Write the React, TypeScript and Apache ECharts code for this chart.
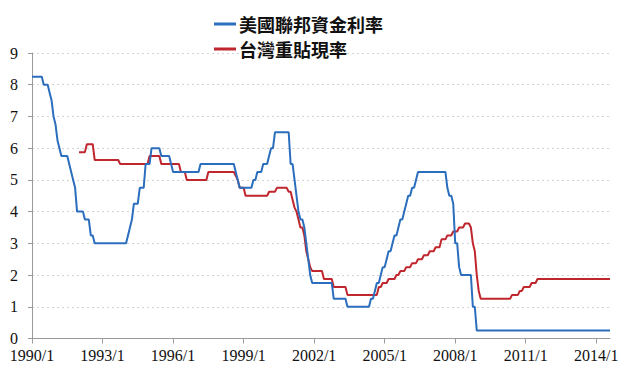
import React, { useEffect, useRef } from "react";
import * as echarts from "echarts";

// Series names
const seriesNames = ["美國聯邦資金利率", "台灣重貼現率"];

// US Fed funds rate: [month from which the value applies, value %]
const fedRuns: [string, number][] = [
  ["1990/1", 8.25], ["1990/7", 8.0], ["1990/10", 7.75], ["1990/11", 7.5], ["1990/12", 7.0],
  ["1991/1", 6.75], ["1991/2", 6.25], ["1991/3", 6.0], ["1991/4", 5.75], ["1991/8", 5.5],
  ["1991/9", 5.25], ["1991/10", 5.0], ["1991/11", 4.75], ["1991/12", 4.0], ["1992/4", 3.75],
  ["1992/7", 3.25], ["1992/9", 3.0], ["1994/2", 3.25], ["1994/3", 3.5], ["1994/4", 3.75],
  ["1994/5", 4.25], ["1994/8", 4.75], ["1994/11", 5.5], ["1995/2", 6.0], ["1995/7", 5.75],
  ["1995/12", 5.5], ["1996/1", 5.25], ["1997/3", 5.5], ["1998/9", 5.25], ["1998/10", 5.0],
  ["1998/11", 4.75], ["1999/6", 5.0], ["1999/8", 5.25], ["1999/11", 5.5], ["2000/2", 5.75],
  ["2000/3", 6.0], ["2000/5", 6.5], ["2001/1", 5.5], ["2001/3", 5.0], ["2001/4", 4.5],
  ["2001/5", 4.0], ["2001/6", 3.75], ["2001/8", 3.5], ["2001/9", 3.0], ["2001/10", 2.5],
  ["2001/11", 2.0], ["2001/12", 1.75], ["2002/11", 1.25], ["2003/6", 1.0], ["2004/6", 1.25],
  ["2004/8", 1.5], ["2004/9", 1.75], ["2004/11", 2.0], ["2004/12", 2.25], ["2005/2", 2.5],
  ["2005/3", 2.75], ["2005/5", 3.0], ["2005/6", 3.25], ["2005/8", 3.5], ["2005/9", 3.75],
  ["2005/11", 4.0], ["2005/12", 4.25], ["2006/1", 4.5], ["2006/3", 4.75], ["2006/5", 5.0],
  ["2006/6", 5.25], ["2007/9", 4.75], ["2007/10", 4.5], ["2007/12", 4.25], ["2008/1", 3.0],
  ["2008/3", 2.25], ["2008/4", 2.0], ["2008/10", 1.0], ["2008/12", 0.25],
];

// Taiwan rediscount rate: [month from which the value applies, value %]
const twRuns: [string, number][] = [
  ["1992/1", 5.875], ["1992/5", 6.125], ["1992/9", 5.625], ["1993/10", 5.5], ["1995/1", 5.75],
  ["1995/7", 5.5], ["1996/5", 5.25], ["1996/8", 5.0], ["1997/7", 5.25], ["1998/9", 5.125],
  ["1998/10", 5.0], ["1998/11", 4.75], ["1999/2", 4.5], ["2000/2", 4.625], ["2000/6", 4.75],
  ["2000/12", 4.625], ["2001/2", 4.375], ["2001/3", 4.125], ["2001/4", 4.0], ["2001/5", 3.75],
  ["2001/6", 3.5], ["2001/8", 3.25], ["2001/9", 2.75], ["2001/10", 2.5], ["2001/11", 2.25],
  ["2001/12", 2.125], ["2002/6", 1.875], ["2002/11", 1.625], ["2003/6", 1.375], ["2004/10", 1.625],
  ["2004/12", 1.75], ["2005/3", 1.875], ["2005/7", 2.0], ["2005/9", 2.125], ["2005/12", 2.25],
  ["2006/3", 2.375], ["2006/6", 2.5], ["2006/9", 2.625], ["2006/12", 2.75], ["2007/3", 2.875],
  ["2007/6", 3.125], ["2007/9", 3.25], ["2007/12", 3.375], ["2008/3", 3.5], ["2008/6", 3.625],
  ["2008/9", 3.5], ["2008/10", 3.0], ["2008/11", 2.75], ["2008/12", 2.0], ["2009/1", 1.5],
  ["2009/2", 1.25], ["2010/6", 1.375], ["2010/10", 1.5], ["2010/12", 1.625], ["2011/4", 1.75],
  ["2011/7", 1.875],
];

const startMonth = "1990/1";
const endMonth = "2014/8";
const xTickLabels = ["1990/1", "1993/1", "1996/1", "1999/1", "2002/1", "2005/1", "2008/1", "2011/1", "2014/1"];
const yTicks = [0, 1, 2, 3, 4, 5, 6, 7, 8, 9];

const monthIndex = (s: string) => {
  const [y, m] = s.split("/").map(Number);
  const [y0, m0] = startMonth.split("/").map(Number);
  return (y - y0) * 12 + (m - m0);
};

const runsToPoints = (runs: [string, number][]) => {
  const last = monthIndex(endMonth);
  const pts: [number, number][] = [];
  runs.forEach(([s, v], i) => {
    const a = monthIndex(s);
    const b = i + 1 < runs.length ? monthIndex(runs[i + 1][0]) - 1 : last;
    pts.push([a, v]);
    if (b > a) pts.push([b, v]);
  });
  return pts;
};

const SERIF = "Times New Roman";

export default function App() {
  const ref = useRef<HTMLDivElement>(null);
  useEffect(() => {
    if (!ref.current) return;
    const chart = echarts.init(ref.current, null, { renderer: "svg" });
    const tickVals = xTickLabels.map(monthIndex);
    const labelMap: Record<number, string> = {};
    xTickLabels.forEach((l) => (labelMap[monthIndex(l)] = l));
    chart.setOption({
      animation: false,
      backgroundColor: "#ffffff",
      textStyle: { fontFamily: SERIF },
      grid: { left: 32, right: 19, top: 53, bottom: 38.5, containLabel: false },
      legend: {
        orient: "vertical",
        left: 214,
        top: 15,
        padding: 0,
        itemWidth: 22,
        itemHeight: 3,
        itemGap: 7,
        icon: "rect",
        textStyle: {
          fontFamily: "Noto Sans CJK TC",
          fontSize: 18,
          fontWeight: "bold",
          color: "#111",
          lineHeight: 18,
          padding: [0, 0, 0, -2],
        },
        data: seriesNames,
      },
      xAxis: {
        type: "value",
        min: 0,
        max: monthIndex(endMonth),
        splitLine: { show: false },
        axisLine: { show: true, lineStyle: { color: "#9a9a9a", width: 1 } },
        axisTick: { show: true, length: 5, customValues: tickVals, lineStyle: { color: "#9a9a9a" } },
        axisLabel: {
          customValues: tickVals,
          formatter: (v: number) => labelMap[v] ?? "",
          fontFamily: SERIF,
          fontSize: 16,
          color: "#111",
          margin: 9,
        },
      },
      yAxis: {
        type: "value",
        min: yTicks[0],
        max: yTicks[yTicks.length - 1],
        interval: 1,
        axisLine: { show: true, lineStyle: { color: "#9a9a9a", width: 1 } },
        axisTick: { show: true, length: 4, lineStyle: { color: "#9a9a9a" } },
        axisLabel: {
          fontFamily: SERIF,
          fontSize: 16,
          color: "#111",
          margin: 14,
        },
        splitLine: { show: true, lineStyle: { color: "#d4d4d4", type: [2, 3], width: 1 } },
      },
      series: [
        {
          name: seriesNames[0],
          type: "line",
          data: runsToPoints(fedRuns),
          showSymbol: false,
          symbol: "none",
          color: "#2a6ebd",
          lineStyle: { color: "#2a6ebd", width: 2 },
          z: 3,
        },
        {
          name: seriesNames[1],
          type: "line",
          data: runsToPoints(twRuns),
          showSymbol: false,
          symbol: "none",
          color: "#c0262d",
          lineStyle: { color: "#c0262d", width: 2 },
          z: 2,
        },
      ],
    });
    return () => chart.dispose();
  }, []);
  return (
    <div
      ref={ref}
      style={{ position: "absolute", left: 0, top: 0, width: 629, height: 377, background: "#fff" }}
    />
  );
}
